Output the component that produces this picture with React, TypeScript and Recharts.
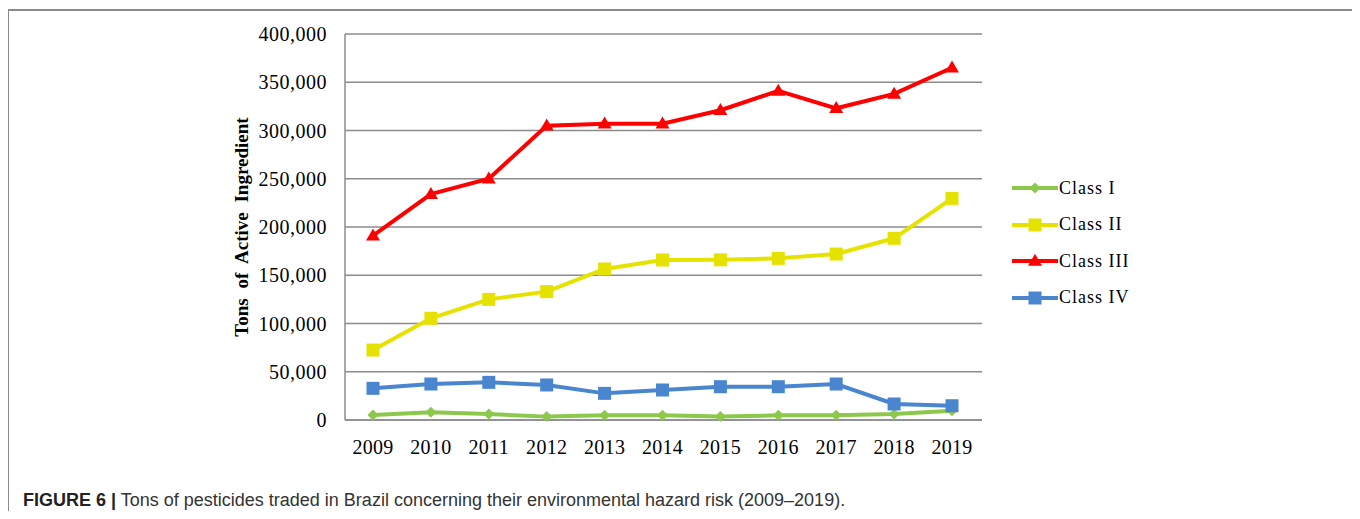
import React from 'react';
import { LineChart, Line, XAxis, YAxis, CartesianGrid, Legend } from 'recharts';

const years = ['2009', '2010', '2011', '2012', '2013', '2014', '2015', '2016', '2017', '2018', '2019'];
const classI = [5200, 8000, 6200, 3500, 4800, 4800, 3500, 4800, 4800, 6200, 9700];
const classII = [72500, 105400, 125000, 133000, 156500, 165800, 166000, 167500, 172000, 188300, 229700];
const classIII = [191000, 234000, 250000, 305000, 307000, 307000, 321000, 341000, 323000, 338000, 365000];
const classIV = [32800, 37300, 39000, 36300, 27600, 31100, 34500, 34500, 37300, 16600, 14800];
const yTicks = [0, 50000, 100000, 150000, 200000, 250000, 300000, 350000, 400000];

const seriesNames = ['Class I', 'Class II', 'Class III', 'Class IV'];
const seriesKeys = ['c1', 'c2', 'c3', 'c4'];
const seriesColors = ['#8CC84B', '#E6E200', '#FF0000', '#4A86D0'];
const seriesShapes = ['diamond', 'square', 'triangle', 'square'];

const data = years.map((y, i) => ({
  year: y,
  c1: classI[i],
  c2: classII[i],
  c3: classIII[i],
  c4: classIV[i],
}));

const SERIF = '"Liberation Serif", "Times New Roman", serif';
const SANS = '"Liberation Sans", Arial, sans-serif';

function Marker({ cx, cy, shape, color }: { cx: number; cy: number; shape: string; color: string }) {
  if (cx == null || cy == null) return null;
  if (shape === 'diamond') {
    const s = 5.5;
    return <polygon points={`${cx},${cy - s} ${cx + s},${cy} ${cx},${cy + s} ${cx - s},${cy}`} fill={color} />;
  }
  if (shape === 'triangle') {
    const w = 7, h = 12;
    return <polygon points={`${cx},${cy - h * 0.6} ${cx + w},${cy + h * 0.4} ${cx - w},${cy + h * 0.4}`} fill={color} />;
  }
  const s = 6.5;
  return <rect x={cx - s} y={cy - s} width={2 * s} height={2 * s} fill={color} />;
}

const makeDot = (idx: number) => (props: any) => (
  <Marker key={`dot-${idx}-${props.index}`} cx={props.cx} cy={props.cy} shape={seriesShapes[idx]} color={seriesColors[idx]} />
);

const LegendContent = () => (
  <div style={{ fontFamily: SERIF }}>
    {seriesNames.map((name, i) => (
      <div key={name} style={{ display: 'flex', alignItems: 'center', height: 36.5 }}>
        <svg width={46} height={16} style={{ display: 'block' }}>
          <line x1={0} y1={8} x2={46} y2={8} stroke={seriesColors[i]} strokeWidth={4} />
          <Marker cx={23} cy={8} shape={seriesShapes[i]} color={seriesColors[i]} />
        </svg>
        <span style={{ fontSize: 18, color: '#000', marginLeft: 1, letterSpacing: 1, whiteSpace: 'nowrap' }}>{name}</span>
      </div>
    ))}
  </div>
);

export default function App() {
  return (
    <div style={{ position: 'relative', width: 1360, height: 519, margin: -8, background: '#fff', overflow: 'hidden' }}>
      <div
        style={{
          position: 'absolute',
          left: 7,
          top: 9,
          width: 1346,
          height: 530,
          borderTop: '2px solid #8a8a8a',
          borderLeft: '2px solid #8a8a8a',
          borderRight: '2px solid #8a8a8a',
        }}
      />
      <div style={{ position: 'absolute', left: 0, top: 0 }}>
        <LineChart width={1360} height={470} data={data} margin={{ top: 34, right: 378, bottom: 10, left: 137 }}>
          <CartesianGrid vertical={false} stroke="#8c8c8c" strokeWidth={1.5} />
          <XAxis
            dataKey="year"
            padding={{ left: 28, right: 30 }}
            axisLine={{ stroke: '#8c8c8c', strokeWidth: 1.5 }}
            tickLine={false}
            tickMargin={14}
            height={40}
            interval={0}
            tick={{ fontFamily: SERIF, fontSize: 20, fill: '#000', letterSpacing: 0.3 }}
          />
          <YAxis
            domain={[0, 400000]}
            ticks={yTicks}
            width={208}
            axisLine={{ stroke: '#8c8c8c', strokeWidth: 1.5 }}
            tickLine={false}
            tickMargin={12}
            tickFormatter={(v: number) => v.toLocaleString('en-US')}
            tick={{ fontFamily: SERIF, fontSize: 20, fill: '#000', letterSpacing: 0.5 }}
            label={{
              value: 'Tons of Active Ingredient',
              angle: -90,
              position: 'center',
              style: { fontFamily: SERIF, fontSize: 19, fontWeight: 'bold', fill: '#000', wordSpacing: 5, textAnchor: 'middle' },
            }}
          />
          <Legend
            layout="vertical"
            align="center"
            verticalAlign="middle"
            content={<LegendContent />}
            wrapperStyle={{ position: 'absolute', left: 1012, top: 170, width: 150 }}
          />
          {seriesKeys.map((k, i) => (
            <Line
              key={k}
              type="linear"
              dataKey={k}
              name={seriesNames[i]}
              stroke={seriesColors[i]}
              strokeWidth={4}
              dot={makeDot(i)}
              activeDot={false}
              isAnimationActive={false}
            />
          ))}
        </LineChart>
      </div>
      <div
        style={{
          position: 'absolute',
          left: 23,
          top: 490,
          fontFamily: SANS,
          fontSize: 18,
          color: '#333',
          whiteSpace: 'nowrap',
        }}
      >
        <span style={{ fontWeight: 'bold', color: '#222' }}>FIGURE 6 |</span> Tons of pesticides traded in Brazil concerning their environmental hazard risk (2009–2019).
      </div>
    </div>
  );
}
